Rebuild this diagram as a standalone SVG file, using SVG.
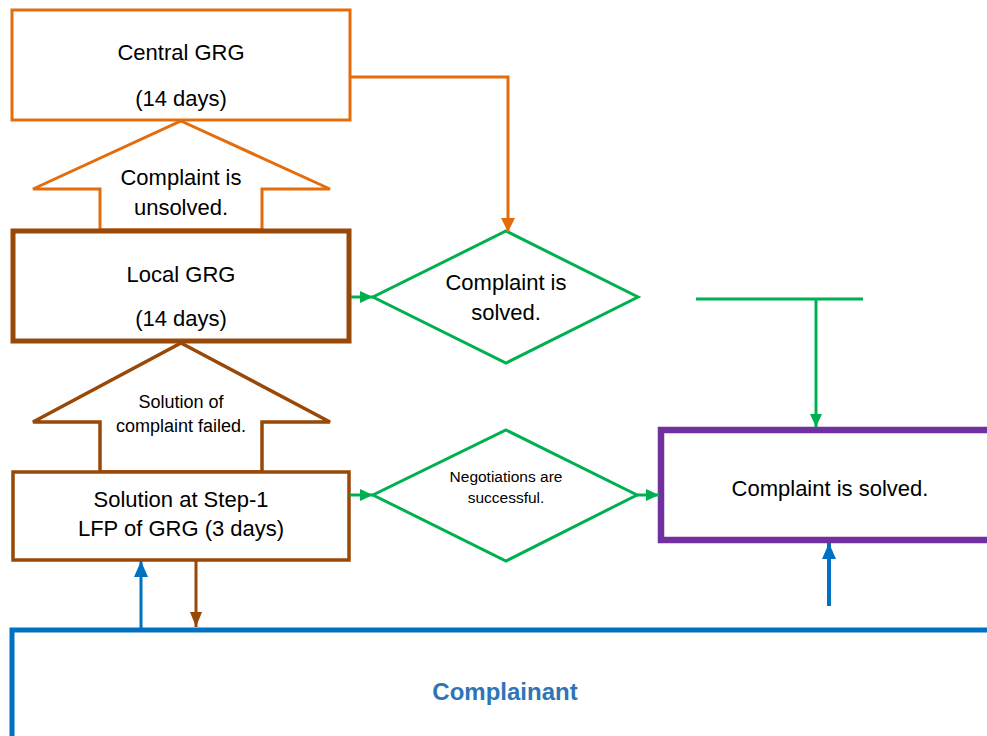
<svg xmlns="http://www.w3.org/2000/svg" width="987" height="736" viewBox="0 0 987 736">
<style>
text{font-family:"Liberation Sans",Arial,sans-serif;fill:#000;text-anchor:middle}
.t22{font-size:22px}
.t18{font-size:18px}
.t15{font-size:15.5px}
.or{stroke:#E46C0A;fill:#fff;stroke-width:3}
.br{stroke:#984807;fill:#fff}
.gr{stroke:#00B050;fill:#fff;stroke-width:3}
.ln{fill:none;stroke-width:3}
</style>
<defs>
<marker id="mOr" markerUnits="userSpaceOnUse" markerWidth="14" markerHeight="14" refX="14" refY="7" orient="auto"><path d="M0,0 L14,7 L0,14 Z" fill="#E46C0A"/></marker>
<marker id="mGr" markerUnits="userSpaceOnUse" markerWidth="13" markerHeight="12" refX="13" refY="6" orient="auto"><path d="M0,0 L13,6 L0,12 Z" fill="#00B050"/></marker>
<marker id="mBr" markerUnits="userSpaceOnUse" markerWidth="15" markerHeight="12" refX="15" refY="6" orient="auto"><path d="M0,0 L15,6 L0,12 Z" fill="#984807"/></marker>
<marker id="mBl" markerUnits="userSpaceOnUse" markerWidth="16" markerHeight="14" refX="16" refY="7" orient="auto"><path d="M0,0 L16,7 L0,14 Z" fill="#0070C0"/></marker>
</defs>

<g id="complainant">
<rect x="12" y="630" width="1000" height="140" fill="#fff" stroke="#0070C0" stroke-width="5"/>
<text x="505" y="700" style="font-size:24px;font-weight:bold;fill:#2E75B6">Complainant</text>
</g>

<g id="central-grg">
<rect x="12" y="10" width="338" height="110" class="or"/>
<text x="181" y="60" class="t22">Central GRG</text>
<text x="181" y="106" class="t22">(14 days)</text>
</g>

<g id="arrow-unsolved">
<polygon points="181,121 330,189 262,189 262,230 100,230 100,189 33,189" class="or"/>
<text x="181" y="185" class="t22">Complaint is</text>
<text x="181" y="215" class="t22">unsolved.</text>
</g>

<g id="local-grg">
<rect x="13" y="231" width="336" height="110" class="br" stroke-width="5"/>
<text x="181" y="282" class="t22">Local GRG</text>
<text x="181" y="326" class="t22">(14 days)</text>
</g>

<g id="arrow-failed">
<polygon points="181,343 330,422 262,422 262,472 100,472 100,422 33,422" class="br" stroke-width="3.5"/>
<text x="181" y="408" class="t18">Solution of</text>
<text x="181" y="432" class="t18">complaint failed.</text>
</g>

<g id="step1">
<rect x="13" y="472" width="336" height="88" class="br" stroke-width="3.5"/>
<text x="181" y="507" class="t22">Solution at Step-1</text>
<text x="181" y="536" class="t22">LFP of GRG (3 days)</text>
</g>

<g id="decision-solved">
<polygon points="506,231 638,297 506,363 373,297" class="gr"/>
<text x="506" y="290" class="t22">Complaint is</text>
<text x="506" y="320" class="t22">solved.</text>
</g>

<g id="decision-negotiations">
<polygon points="506,430 637,495 506,561 373,495" class="gr"/>
<text x="506" y="482" class="t15">Negotiations are</text>
<text x="506" y="503" class="t15">successful.</text>
</g>

<g id="result-solved">
<rect x="661" y="430" width="340" height="110" fill="#fff" stroke="#7030A0" stroke-width="6.5"/>
<text x="830" y="496" class="t22">Complaint is solved.</text>
</g>

<g id="connectors">
<polyline points="350,77 508,77 508,232" class="ln" stroke="#E46C0A" marker-end="url(#mOr)"/>
<line x1="351" y1="297" x2="373" y2="297" class="ln" stroke="#00B050" marker-end="url(#mGr)"/>
<line x1="350" y1="495" x2="373" y2="495" class="ln" stroke="#00B050" marker-end="url(#mGr)"/>
<line x1="637" y1="495" x2="659" y2="495" class="ln" stroke="#00B050" marker-end="url(#mGr)"/>
<line x1="696" y1="299" x2="863" y2="299" class="ln" stroke="#00B050"/>
<line x1="816" y1="299" x2="816" y2="427" class="ln" stroke="#00B050" marker-end="url(#mGr)"/>
<line x1="141" y1="630" x2="141" y2="561" class="ln" stroke="#0070C0" marker-end="url(#mBl)"/>
<line x1="196" y1="561" x2="196" y2="627" class="ln" stroke="#984807" marker-end="url(#mBr)"/>
<line x1="829" y1="606" x2="829" y2="543" stroke="#0070C0" stroke-width="4" marker-end="url(#mBl)"/>
</g>
</svg>
